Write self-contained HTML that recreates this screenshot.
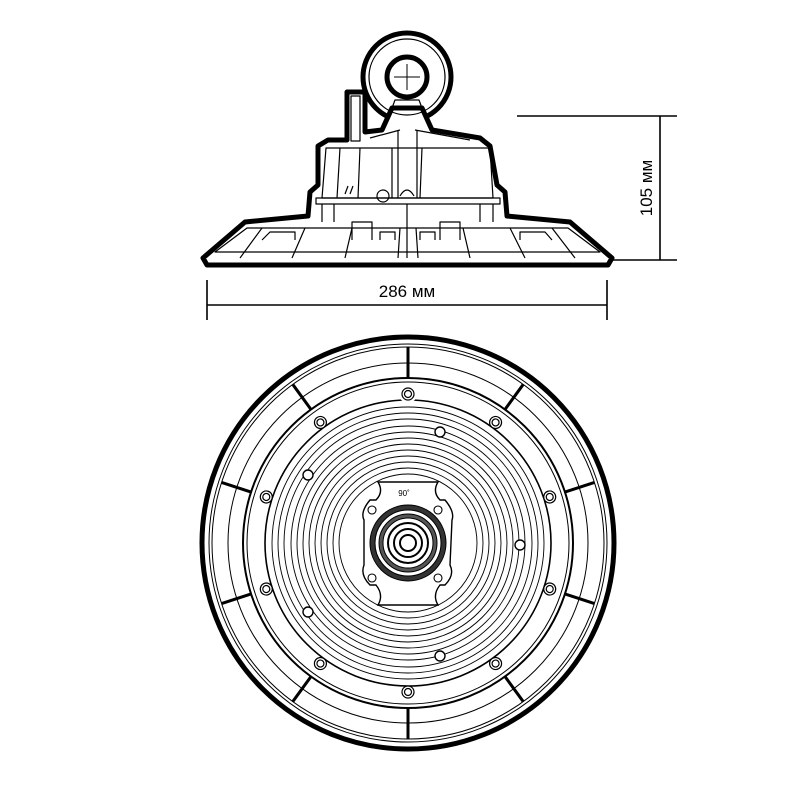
<!DOCTYPE html>
<html><head><style>html,body{margin:0;padding:0;background:#fff}svg{display:block}</style></head>
<body>
<svg width="800" height="800" viewBox="0 0 800 800" xmlns="http://www.w3.org/2000/svg" font-family="Liberation Sans, sans-serif">
<rect width="800" height="800" fill="#fff"/>
<!-- SIDE VIEW -->
<g stroke="#000" fill="#fff" stroke-linejoin="round">
  <circle cx="407" cy="77" r="44" stroke-width="5"/>
  <path d="M203,258 L245,222 L308,216 L310,192 L318,185 L318,146 L328,140 L347,140 L347,92 L365,92 L365,132 L382,130 L392,108 L422,108 L432,130 L480,138 L490,146 L497,185 L505,192 L507,216 L570,222 L612,258 L608,265 L207,265 Z" stroke-width="5"/>
  <g fill="none" stroke-width="1.2">
    <circle cx="407" cy="77" r="38"/>
    <path d="M392,108 L395,100 L419,100 L422,108"/>
    <rect x="351" y="96" width="9" height="45"/>
    <path d="M326,148 L490,148 L493,198 L322,198 Z"/>
    <path d="M340,148 L337,198 M360,148 L358,198 M392,148 L392,198 M398,130 L398,198 M417,130 L417,198 M422,148 L420,198"/>
    <path d="M370,138 L400,130 M415,130 L470,140"/>
    <path d="M316,198 L500,198 L500,204 L316,204 Z"/>
    <path d="M322,204 L322,222 M334,204 L334,222 M480,204 L480,222 M493,204 L493,222 M407,204 L407,258"/>
    <path d="M215,252 L247,228 L568,228 L600,252 Z"/>
    <path d="M240,258 L262,228 M292,258 L305,228 M345,258 L352,228 M398,258 L400,228 M418,258 L416,228 M470,258 L463,228 M525,258 L510,228 M575,258 L552,228"/>
    <path d="M262,240 L270,232 L295,232 L295,240 M352,240 L352,222 L372,222 L372,240 M440,240 L440,222 L460,222 L460,240 M520,240 L520,232 L545,232 L552,240"/>
    <path d="M380,240 L380,232 L395,232 L395,240 M420,240 L420,232 L435,232 L435,240"/>
    <circle cx="383" cy="196" r="6"/>
    <path d="M400,196 Q407,184 414,196"/>
    <path d="M345,194 L348,186 M350,194 L353,186"/>
  </g>
  <circle cx="407" cy="77" r="20" stroke-width="5"/>
  <path d="M407,64 V90 M394,77 H420" stroke-width="1" fill="none"/>
</g>
<!-- dimensions -->
<g stroke="#000" stroke-width="1.6" fill="none">
  <path d="M207,280 V320 M607,280 V320 M207,305 H607"/>
  <path d="M517,116 H677 M612,260 H677 M660,116 V260"/>
</g>
<text x="407" y="297" font-size="17" text-anchor="middle">286 мм</text>
<text transform="translate(652,188) rotate(-90)" font-size="17" text-anchor="middle">105 мм</text>
<!-- TOP VIEW -->
<g stroke="#000" fill="none">
  <circle cx="408" cy="543" r="206" stroke-width="5" fill="#fff"/>
  <circle cx="408" cy="543" r="199" stroke-width="1"/>
  <circle cx="408" cy="543" r="196" stroke-width="1"/>
  <circle cx="408" cy="543" r="180" stroke-width="1"/>
  <circle cx="408" cy="543" r="165" stroke-width="2"/>
  <circle cx="408" cy="543" r="161" stroke-width="1"/>
  <g stroke-width="3">
    <path d="M408,347 V378" transform="rotate(0 408 543)"/>
    <path d="M408,347 V378" transform="rotate(36 408 543)"/>
    <path d="M408,347 V378" transform="rotate(72 408 543)"/>
    <path d="M408,347 V378" transform="rotate(108 408 543)"/>
    <path d="M408,347 V378" transform="rotate(144 408 543)"/>
    <path d="M408,347 V378" transform="rotate(180 408 543)"/>
    <path d="M408,347 V378" transform="rotate(216 408 543)"/>
    <path d="M408,347 V378" transform="rotate(252 408 543)"/>
    <path d="M408,347 V378" transform="rotate(288 408 543)"/>
    <path d="M408,347 V378" transform="rotate(324 408 543)"/>
  </g>
  <circle cx="408" cy="543" r="143" stroke-width="1.6"/>
  <g stroke-width="1.2" fill="#fff">
    <g transform="rotate(0 408 543)"><circle cx="408" cy="394" r="9" stroke="none"/><circle cx="408" cy="394" r="6"/><circle cx="408" cy="394" r="3.5"/></g>
    <g transform="rotate(36 408 543)"><circle cx="408" cy="394" r="6"/><circle cx="408" cy="394" r="3.5"/></g>
    <g transform="rotate(72 408 543)"><circle cx="408" cy="394" r="6"/><circle cx="408" cy="394" r="3.5"/></g>
    <g transform="rotate(108 408 543)"><circle cx="408" cy="394" r="6"/><circle cx="408" cy="394" r="3.5"/></g>
    <g transform="rotate(144 408 543)"><circle cx="408" cy="394" r="6"/><circle cx="408" cy="394" r="3.5"/></g>
    <g transform="rotate(180 408 543)"><circle cx="408" cy="394" r="6"/><circle cx="408" cy="394" r="3.5"/></g>
    <g transform="rotate(216 408 543)"><circle cx="408" cy="394" r="6"/><circle cx="408" cy="394" r="3.5"/></g>
    <g transform="rotate(252 408 543)"><circle cx="408" cy="394" r="6"/><circle cx="408" cy="394" r="3.5"/></g>
    <g transform="rotate(288 408 543)"><circle cx="408" cy="394" r="6"/><circle cx="408" cy="394" r="3.5"/></g>
    <g transform="rotate(324 408 543)"><circle cx="408" cy="394" r="6"/><circle cx="408" cy="394" r="3.5"/></g>
  </g>
  <g stroke-width="0.9">
    <circle cx="408" cy="543" r="136"/><circle cx="408" cy="543" r="130"/><circle cx="408" cy="543" r="124"/>
    <circle cx="408" cy="543" r="117"/><circle cx="408" cy="543" r="111"/><circle cx="408" cy="543" r="105"/>
    <circle cx="408" cy="543" r="99"/><circle cx="408" cy="543" r="93"/><circle cx="408" cy="543" r="87"/>
    <circle cx="408" cy="543" r="81"/><circle cx="408" cy="543" r="75"/><circle cx="408" cy="543" r="69"/>
  </g>
  <g stroke-width="1.4" fill="#fff">
    <circle cx="440" cy="432" r="5"/><circle cx="520" cy="545" r="5"/><circle cx="440" cy="656" r="5"/>
    <circle cx="308" cy="612" r="5"/><circle cx="308" cy="475" r="5"/>
  </g>
  <path d="M378,482 H438 Q432,492 440,500 L445,500 Q455,512 452,520 L450,565 Q455,575 445,585 L440,585 Q432,595 438,605 H378 Q384,595 376,585 L370,585 Q360,575 364,565 L364,520 Q360,512 370,500 L376,500 Q384,492 378,482 Z" fill="#fff" stroke-width="1.4"/>
  <g stroke-width="1.1" fill="#fff"><circle cx="372" cy="510" r="4"/><circle cx="438" cy="510" r="4"/><circle cx="372" cy="578" r="4"/><circle cx="438" cy="578" r="4"/></g>
  <circle cx="408" cy="543" r="38" fill="#333" stroke-width="1"/>
  <circle cx="408" cy="543" r="33" fill="#fff" stroke-width="1"/>
  <circle cx="408" cy="543" r="29" fill="#555" stroke-width="1"/>
  <circle cx="408" cy="543" r="25" fill="#fff" stroke-width="1"/>
  <circle cx="408" cy="543" r="20" stroke-width="2"/>
  <circle cx="408" cy="543" r="14" stroke-width="2"/>
  <circle cx="408" cy="543" r="8" stroke-width="2"/>
</g>
<text x="404" y="496" font-size="8" text-anchor="middle">90˚</text>
</svg>
</body></html>
